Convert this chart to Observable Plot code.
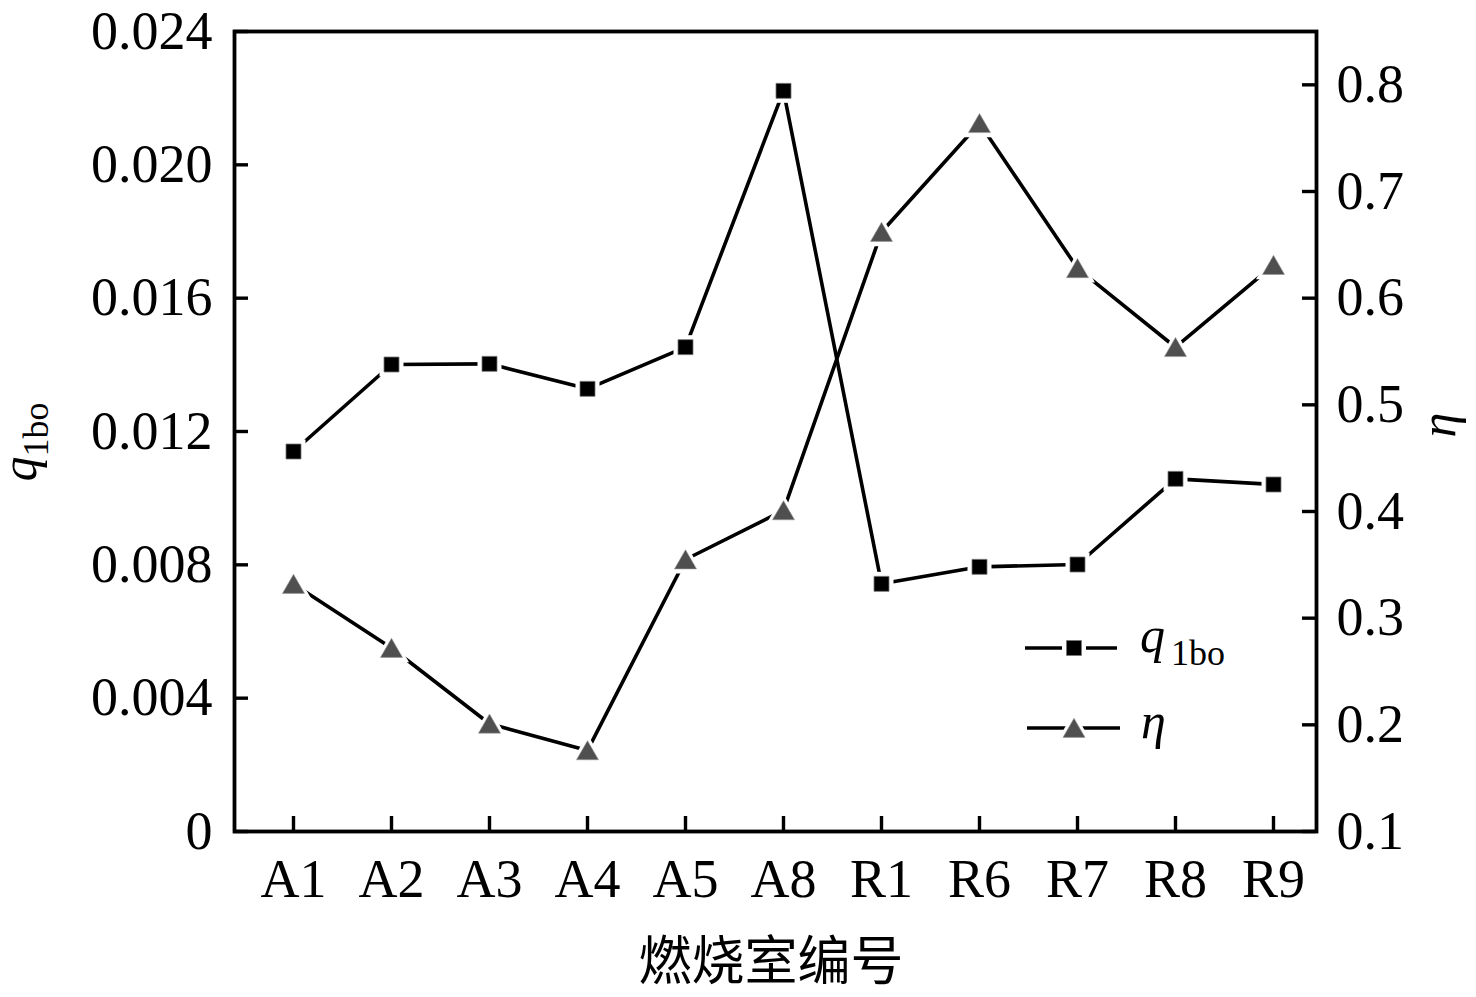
<!DOCTYPE html>
<html>
<head>
<meta charset="utf-8">
<script src="https://cdn.jsdelivr.net/npm/d3@7"></script>
<script src="https://cdn.jsdelivr.net/npm/@observablehq/plot@0.6"></script>
<style>
  html, body { margin: 0; padding: 0; background: white; }
  #chart { width: 1476px; height: 997px; }
</style>
</head>
<body>
<div id="chart"></div>
<script>
// ---- data ----
const categories = ["A1", "A2", "A3", "A4", "A5", "A8", "R1", "R6", "R7", "R8", "R9"];
const q1bo = [0.01140, 0.01401, 0.01403, 0.01328, 0.01453, 0.02222, 0.00743, 0.00794, 0.00801, 0.01058, 0.01041];
const eta  = [0.332, 0.272, 0.201, 0.176, 0.355, 0.401, 0.662, 0.764, 0.628, 0.554, 0.631];
const leftTicks  = [0, 0.004, 0.008, 0.012, 0.016, 0.020, 0.024];
const rightTicks = [0.1, 0.2, 0.3, 0.4, 0.5, 0.6, 0.7, 0.8];
const xTitle = "燃烧室编号";

// ---- layout ----
const W = 1476, H = 997;
const mL = 234, mR = 160, mT = 31, mB = 166;
const fw = W - mL - mR, fh = H - mT - mB;
const serif = "'Liberation Serif', 'Times New Roman', serif";

// secondary axis mapping: eta domain onto the q1bo scale
const etaToQ = d3.scaleLinear([0.1, 0.85], [0, 0.024]);

const data = categories.map((c, i) => ({cat: c, q: q1bo[i], eta: eta[i], etaQ: etaToQ(eta[i])}));

const sqR = 15 / Math.sqrt(Math.PI), sqHalo = 24 / Math.sqrt(Math.PI);
const triR = 8.2, triHalo = 13;
const triColor = "#4f4f4f";
const lw = 3.6;
const tw = 3.4;

const plot = Plot.plot({
  width: W, height: H,
  marginLeft: mL, marginRight: mR, marginTop: mT, marginBottom: mB,
  style: {fontFamily: serif, fontSize: "54px", background: "white", color: "black", overflow: "visible"},
  x: {type: "point", domain: categories, range: [289.5, 1275.5], padding: 0, label: null},
  y: {domain: [0, 0.024], label: null},
  marks: [
    Plot.axisX({tickSize: 0, tickPadding: 27, fontSize: 54, label: null}),
    Plot.tickX(categories, {x: d => d, insetTop: fh - 15, stroke: "black", strokeWidth: tw}),
    Plot.axisY(leftTicks, {anchor: "left", tickSize: 0, tickPadding: 22, fontSize: 54, label: null,
      tickFormat: d => d === 0 ? "0" : d.toFixed(3)}),
    Plot.tickY(leftTicks, {y: d => d, insetRight: fw - 14, stroke: "black", strokeWidth: tw}),
    Plot.axisY(rightTicks.map(etaToQ), {anchor: "right", tickSize: 0, tickPadding: 20, fontSize: 54, label: null,
      tickFormat: d => d3.format(".1f")(etaToQ.invert(d))}),
    Plot.tickY(rightTicks.map(etaToQ), {y: d => d, insetLeft: fw - 14, stroke: "black", strokeWidth: tw}),
    Plot.line(data, {x: "cat", y: "q", stroke: "black", strokeWidth: lw}),
    Plot.line(data, {x: "cat", y: "etaQ", stroke: "black", strokeWidth: lw}),
    // white halos (gap between line and symbol)
    Plot.dot(data, {x: "cat", y: "q", symbol: "square", r: sqHalo, fill: "white", stroke: "none"}),
    Plot.dot(data, {x: "cat", y: "etaQ", symbol: "triangle", r: triHalo, fill: "white", stroke: "none", dy: 4}),
    // symbols
    Plot.dot(data, {x: "cat", y: "q", symbol: "square", r: sqR, fill: "black", stroke: "#777", strokeWidth: 0.8}),
    Plot.dot(data, {x: "cat", y: "etaQ", symbol: "triangle", r: triR, fill: triColor, stroke: "#999", strokeWidth: 0.6, dy: 3}),
    Plot.frame({stroke: "black", strokeWidth: 3.8})
  ]
});

document.getElementById("chart").appendChild(plot);

// ---- titles & legend ----
const svg = d3.select(plot);
const g = svg.append("g").attr("font-family", serif).attr("fill", "black");

// x title
g.append("text")
  .attr("x", 771).attr("y", 980)
  .attr("text-anchor", "middle")
  .attr("font-family", "'Noto Sans CJK SC', sans-serif")
  .attr("font-size", 53)
  .text(xTitle);

// left y title: q_1bo
const yl = g.append("text")
  .attr("transform", "translate(36,442) rotate(-90)")
  .attr("text-anchor", "middle");
yl.append("tspan").attr("font-style", "italic").attr("font-size", 50).text("q");
yl.append("tspan").attr("font-size", 36).attr("dy", 12).text("1bo");

// right y title: eta (reads bottom to top, like the left title)
g.append("text")
  .attr("transform", "translate(1455,425) rotate(-90)")
  .attr("text-anchor", "middle")
  .attr("font-style", "italic")
  .attr("font-size", 50)
  .text("η");

// legend
const lg = g.append("g").attr("text-anchor", "start");
const sqSym = d3.symbol(d3.symbolSquare, 15 * 15);
const sqHaloSym = d3.symbol(d3.symbolSquare, 24 * 24);
const triSym = d3.symbol(d3.symbolTriangle, Math.PI * triR * triR);
const triHaloSym = d3.symbol(d3.symbolTriangle, Math.PI * triHalo * triHalo);

lg.append("line").attr("x1", 1025).attr("x2", 1117).attr("y1", 648).attr("y2", 648)
  .attr("stroke", "black").attr("stroke-width", lw);
lg.append("path").attr("d", sqHaloSym()).attr("transform", "translate(1074,648)").attr("fill", "white");
lg.append("path").attr("d", sqSym()).attr("transform", "translate(1074,648)")
  .attr("fill", "black").attr("stroke", "#777").attr("stroke-width", 0.8);

lg.append("line").attr("x1", 1027).attr("x2", 1120).attr("y1", 728).attr("y2", 728)
  .attr("stroke", "black").attr("stroke-width", lw);
lg.append("path").attr("d", triHaloSym()).attr("transform", "translate(1074,732)").attr("fill", "white");
lg.append("path").attr("d", triSym()).attr("transform", "translate(1074,731)")
  .attr("fill", triColor).attr("stroke", "#999").attr("stroke-width", 0.6);

const lq = lg.append("text").attr("x", 1140).attr("y", 652).attr("text-anchor", "start");
lq.append("tspan").attr("font-style", "italic").attr("font-size", 50).text("q");
lq.append("tspan").attr("font-size", 36).attr("dx", 6).attr("dy", 13).text("1bo");

lg.append("text").attr("x", 1141).attr("y", 738).attr("text-anchor", "start")
  .attr("font-style", "italic").attr("font-size", 50).text("η");
</script>
</body>
</html>
